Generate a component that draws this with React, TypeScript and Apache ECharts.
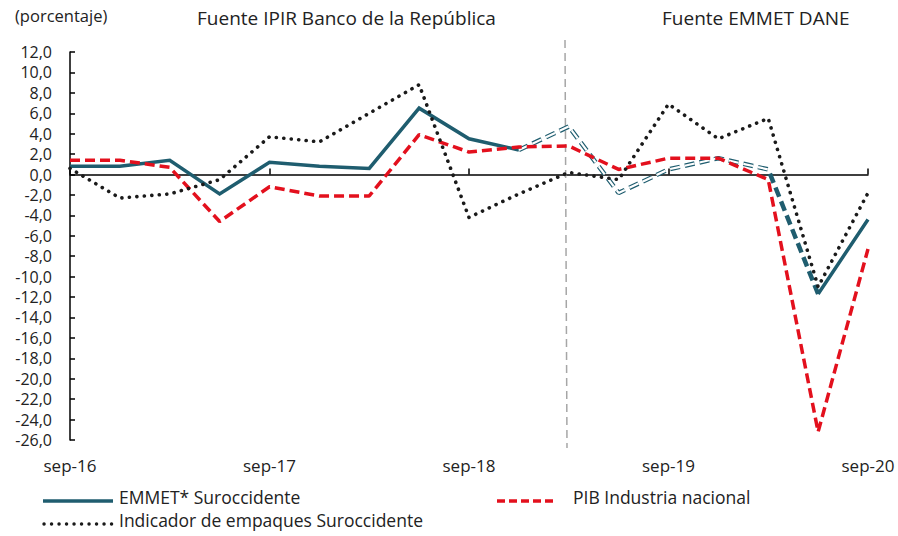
import React, { useEffect, useRef } from "react";
import * as echarts from "echarts";

const categories = [
  "sep-16", "dic-16", "mar-17", "jun-17", "sep-17", "dic-17", "mar-18", "jun-18",
  "sep-18", "dic-18", "mar-19", "jun-19", "sep-19", "dic-19", "mar-20", "jun-20", "sep-20",
];

// EMMET* Suroccidente (solid part: IPIR period and last points)
const emmetSolid = [0.8, 0.8, 1.4, -1.9, 1.2, 0.8, 0.6, 6.5, 3.5, 2.4, null, null, null, null, null, -11.7, -4.4];
// EMMET* Suroccidente (dashed transition part)
const emmetDashed = [null, null, null, null, null, null, null, null, null, 2.4, 4.7, -1.8, 0.5, 1.6, 0.5, -11.7, null];
const emmetDashedInner = [null, null, null, null, null, null, null, null, null, 2.4, 4.7, -1.8, 0.5, 1.6, 0.5, null, null];
// PIB Industria nacional
const pib = [1.4, 1.4, 0.7, -4.6, -1.2, -2.1, -2.1, 3.9, 2.2, 2.7, 2.8, 0.5, 1.6, 1.6, -0.5, -25.2, -7.3];
// Indicador de empaques Suroccidente
const empaques = [0.6, -2.3, -1.9, -0.5, 3.7, 3.2, 6.0, 8.8, -4.2, -1.9, 0.2, -0.5, 6.9, 3.5, 5.5, -11.0, -1.8];

const legendNames = ["EMMET* Suroccidente", "PIB Industria nacional", "Indicador de empaques Suroccidente"];
const sourceLabels = ["Fuente IPIR Banco de la República", "Fuente EMMET DANE"];
const unitLabel = "(porcentaje)";

const TEAL = "#1f5d6f";
const RED = "#e3101d";
const DARK = "#1a1a1a";
const FONT = "Open Sans";

export default function App() {
  const ref = useRef<HTMLDivElement>(null);

  useEffect(() => {
    if (!ref.current) return;
    const chart = echarts.init(ref.current, null, { renderer: "svg" });
    const dash = [10, 5];
    const option: any = {
      animation: false,
      backgroundColor: "#ffffff",
      textStyle: { fontFamily: FONT },
      grid: { left: 70, right: 30, top: 52, bottom: 96, containLabel: false },
      xAxis: [
        {
          type: "category",
          data: categories,
          boundaryGap: false,
          position: "bottom",
          axisLine: { show: true, onZero: true, lineStyle: { color: "#000", width: 1.5 } },
          axisTick: { show: true, inside: true, length: 6, interval: 3, lineStyle: { color: "#000", width: 1.5 } },
          axisLabel: { show: false },
          splitLine: { show: false },
        },
        {
          type: "category",
          data: categories,
          boundaryGap: false,
          position: "bottom",
          axisLine: { show: false, onZero: false },
          axisTick: { show: false },
          axisLabel: { show: true, interval: 3, margin: 17, fontSize: 17, color: "#222", fontFamily: FONT },
          splitLine: { show: false },
        },
      ],
      yAxis: {
        type: "value",
        min: -26,
        max: 12,
        interval: 2,
        axisLine: { show: true, lineStyle: { color: "#000", width: 1.5 } },
        axisTick: { show: true, inside: true, length: 5, lineStyle: { color: "#000", width: 1.5 } },
        axisLabel: {
          margin: 18,
          fontSize: 16,
          color: "#222",
          fontFamily: FONT,
          formatter: (v: number) => v.toFixed(1).replace(".", ","),
        },
        splitLine: { show: false },
      },
      series: [
        {
          name: legendNames[0],
          type: "line",
          data: emmetSolid,
          symbol: "none",
          connectNulls: false,
          lineStyle: { color: TEAL, width: 3.5, join: "miter" },
          z: 3,
        },
        {
          name: legendNames[0] + " (transición)",
          type: "line",
          data: emmetDashed,
          symbol: "none",
          connectNulls: false,
          lineStyle: { color: TEAL, width: 4.5, type: dash },
          z: 3,
        },
        {
          name: legendNames[0] + " (interior)",
          type: "line",
          data: emmetDashedInner,
          symbol: "none",
          connectNulls: false,
          lineStyle: { color: "#ffffff", width: 2.2, type: dash },
          z: 4,
        },
        {
          name: legendNames[1],
          type: "line",
          data: pib,
          symbol: "none",
          lineStyle: { color: RED, width: 3.5, type: [10, 5] },
          z: 5,
        },
        {
          name: legendNames[2],
          type: "line",
          data: empaques,
          symbol: "none",
          lineStyle: { color: DARK, width: 3.6, type: [0.1, 7.4], cap: "round" },
          z: 6,
        },
      ],
      graphic: [
        {
          type: "line",
          shape: { x1: 565, y1: 40, x2: 567, y2: 448 },
          style: { stroke: "#a6a6a6", lineWidth: 1.5, lineDash: [8, 5] },
          z: 1,
        },
        {
          type: "text",
          left: 15,
          top: 7,
          style: { text: unitLabel, fontSize: 16.5, fill: "#222", fontFamily: FONT },
        },
        {
          type: "text",
          left: 197,
          top: 8,
          style: { text: sourceLabels[0], fontSize: 19, fill: "#222", fontFamily: FONT },
        },
        {
          type: "text",
          left: 662,
          top: 8,
          style: { text: sourceLabels[1], fontSize: 19, fill: "#222", fontFamily: FONT },
        },
        // legend
        {
          type: "line",
          shape: { x1: 43, y1: 501, x2: 113, y2: 501 },
          style: { stroke: TEAL, lineWidth: 3.5 },
        },
        {
          type: "text",
          left: 119,
          top: 488,
          style: { text: legendNames[0], fontSize: 17.5, fill: "#222", fontFamily: FONT },
        },
        {
          type: "line",
          shape: { x1: 497, y1: 501, x2: 555, y2: 501 },
          style: { stroke: RED, lineWidth: 3.5, lineDash: [8, 4] },
        },
        {
          type: "text",
          left: 573,
          top: 488,
          style: { text: legendNames[1], fontSize: 17.5, fill: "#222", fontFamily: FONT },
        },
        {
          type: "line",
          shape: { x1: 44, y1: 524, x2: 113, y2: 524 },
          style: { stroke: DARK, lineWidth: 3.4, lineDash: [0.1, 7.4], lineCap: "round" },
        },
        {
          type: "text",
          left: 119,
          top: 511,
          style: { text: legendNames[2], fontSize: 17.5, fill: "#222", fontFamily: FONT },
        },
      ],
    };
    chart.setOption(option);
    return () => chart.dispose();
  }, []);

  return (
    <div
      ref={ref}
      style={{ position: "fixed", left: 0, top: 0, width: 898, height: 536, background: "#fff" }}
    />
  );
}
